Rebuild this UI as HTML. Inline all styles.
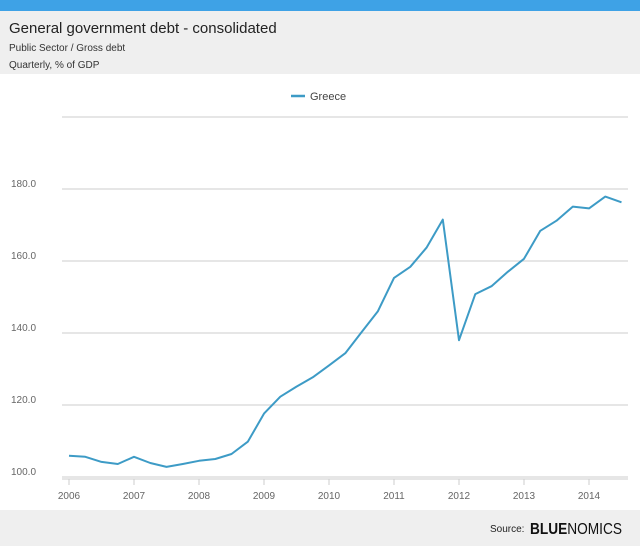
<!DOCTYPE html>
<html><head><meta charset="utf-8"><style>
body{margin:0;width:640px;height:546px;overflow:hidden;background:#fff;font-family:"Liberation Sans",sans-serif;}
</style></head><body>
<svg width="640" height="546" xmlns="http://www.w3.org/2000/svg">
<rect x="0" y="0" width="640" height="11" fill="#3ea2e6"/>
<rect x="0" y="11" width="640" height="63" fill="#efefef"/>
<text x="9" y="33" font-size="15" fill="#222">General government debt - consolidated</text>
<text x="9" y="51" font-size="10" fill="#333">Public Sector / Gross debt</text>
<text x="9" y="68" font-size="10" fill="#333">Quarterly, % of GDP</text>
<g>
<line x1="291" y1="96" x2="305" y2="96" stroke="#3d9bc6" stroke-width="2.5"/>
<text x="310" y="100" font-size="11" fill="#444">Greece</text>
</g>
<g id="grid"></g><g id="ylabels"></g><g id="xlabels"></g>
<path id="line" fill="none" stroke="#3d9bc6" stroke-width="2" stroke-linejoin="round"/>
<rect x="0" y="510" width="640" height="36" fill="#efefef"/>
<text x="490" y="532" font-size="10" fill="#222">Source:</text>
<text x="530" y="534" font-size="16" fill="#111" textLength="92" lengthAdjust="spacingAndGlyphs"><tspan font-weight="bold">BLUE</tspan>NOMICS</text>
</svg>
<script>
const yTicks=[100,120,140,160,180,200];
const yTickLabels=["100.0","120.0","140.0","160.0","180.0",""];
const xTicks=[2006,2007,2008,2009,2010,2011,2012,2013,2014];
const dates=[2006,2006.25,2006.5,2006.75,2007,2007.25,2007.5,2007.75,2008,2008.25,2008.5,2008.75,2009,2009.25,2009.5,2009.75,2010,2010.25,2010.5,2010.75,2011,2011.25,2011.5,2011.75,2012,2012.25,2012.5,2012.75,2013,2013.25,2013.5,2013.75,2014,2014.25,2014.5];
const greece=[105.9,105.6,104.2,103.6,105.6,103.9,102.8,103.6,104.5,105,106.4,109.8,117.6,122.3,125.1,127.7,131,134.4,140.2,146,155.3,158.4,163.7,171.5,138,150.8,153,157,160.6,168.4,171.2,175.1,174.6,177.9,176.3];
const ns="http://www.w3.org/2000/svg";
const xs=v=>69+(v-2006)*65;
const ys=v=>477-(v-100)*3.6;
const grid=document.getElementById('grid'),yl=document.getElementById('ylabels'),xl=document.getElementById('xlabels');
yTicks.forEach((t,i)=>{
 const l=document.createElementNS(ns,'line');
 l.setAttribute('x1',62);l.setAttribute('x2',628);l.setAttribute('y1',ys(t));l.setAttribute('y2',ys(t));
 l.setAttribute('stroke','#d6d6d6');l.setAttribute('stroke-width','1.2');
 
 
 grid.appendChild(l);
 if(yTickLabels[i]){const tx=document.createElementNS(ns,'text');
 tx.setAttribute('x',11);tx.setAttribute('y',ys(t)-2);tx.setAttribute('font-size','10');tx.setAttribute('fill','#666');
 tx.textContent=yTickLabels[i];
 
 
 yl.appendChild(tx);}
});
const ax=document.createElementNS(ns,'line');
ax.setAttribute('x1',62);ax.setAttribute('x2',628);ax.setAttribute('y1',479);ax.setAttribute('y2',479);ax.setAttribute('stroke','#ccc');


grid.appendChild(ax);
xTicks.forEach(t=>{
 const tk=document.createElementNS(ns,'line');
 tk.setAttribute('x1',xs(t));tk.setAttribute('x2',xs(t));tk.setAttribute('y1',479);tk.setAttribute('y2',485);tk.setAttribute('stroke','#ccc');
 
 
 grid.appendChild(tk);
 const tx=document.createElementNS(ns,'text');
 tx.setAttribute('x',xs(t));tx.setAttribute('y',499);tx.setAttribute('font-size','10');tx.setAttribute('fill','#666');tx.setAttribute('text-anchor','middle');
 tx.textContent=t;
 
 
 xl.appendChild(tx);
});
document.getElementById('line').setAttribute('d',dates.map((d,i)=>(i?'L':'M')+xs(d).toFixed(1)+','+ys(greece[i]).toFixed(1)).join(''));
</script>
</body></html>
